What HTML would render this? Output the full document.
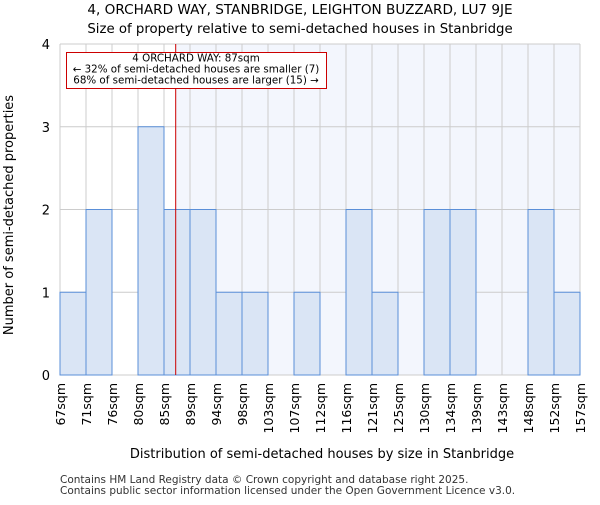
<!DOCTYPE html>
<html><head><meta charset="utf-8"><style>body{margin:0;background:#fff}svg{font-family:"DejaVu Sans","Liberation Sans",sans-serif}</style></head>
<body>
<svg id="c" width="600" height="500" xmlns="http://www.w3.org/2000/svg"></svg>
<script>
const edges=["67sqm","71sqm","76sqm","80sqm","85sqm","89sqm","94sqm","98sqm","103sqm","107sqm","112sqm","116sqm","121sqm","125sqm","130sqm","134sqm","139sqm","143sqm","148sqm","152sqm","157sqm"];
const counts=[1,2,0,3,2,2,1,1,0,1,0,2,1,0,2,2,0,0,2,1];
const yTicks=[0,1,2,3,4];
const markerPos=4.45; // in bin units
const svg=document.getElementById('c');
const NS='http://www.w3.org/2000/svg';
const L=60,R=580,T=44,B=375,bw=(R-L)/counts.length;
const x=i=>L+i*bw, y=v=>B-(B-T)*v/4;
function mk(t,a,p){const e=document.createElementNS(NS,t);for(const k in a)e.setAttribute(k,a[k]);(p||svg).appendChild(e);return e;}
const mx=x(markerPos);
let e=mk('rect',{x:mx,y:T,width:R-mx,height:B-T,fill:'#f3f6fd'});


edges.forEach((_,i)=>{mk('line',{x1:x(i),x2:x(i),y1:T,y2:B,stroke:'#cccccc'});});
yTicks.forEach(v=>{mk('line',{x1:L,x2:R,y1:y(v),y2:y(v),stroke:'#cccccc'});
let t=mk('text',{x:L-10,y:y(v)+5,'text-anchor':'end','font-size':13});t.textContent=v;

});
counts.forEach((c,i)=>{if(!c)return;let r=mk('rect',{x:x(i),y:y(c),width:bw,height:B-y(c),fill:'#dae5f5',stroke:'#5a8fd8','stroke-width':1});

});
edges.forEach((l,i)=>{let t=mk('text',{transform:`translate(${x(i)+5},${B+8}) rotate(-90)`,'text-anchor':'end','font-size':12.5});t.textContent=l;

});
e=mk('line',{x1:mx,x2:mx,y1:T,y2:B,stroke:'#cc0000','stroke-width':1});


const g=mk('g',{});


mk('rect',{x:66.5,y:52.5,width:260,height:36,fill:'#fff',stroke:'#cc0000'},g);
[["4 ORCHARD WAY: 87sqm",61.5],["← 32% of semi-detached houses are smaller (7)",72.5],["68% of semi-detached houses are larger (15) →",83.5]].forEach(([s,yy])=>{let t=mk('text',{x:196,y:yy,'text-anchor':'middle','font-size':10.3},g);t.textContent=s;});
function txt(s,a,n){let t=mk('text',a);t.textContent=s;}
txt("4, ORCHARD WAY, STANBRIDGE, LEIGHTON BUZZARD, LU7 9JE",{x:300,y:14,'text-anchor':'middle','font-size':13.6},'chart-title');
txt("Size of property relative to semi-detached houses in Stanbridge",{x:300,y:33,'text-anchor':'middle','font-size':13.3},'chart-subtitle');
txt("Distribution of semi-detached houses by size in Stanbridge",{x:322,y:458,'text-anchor':'middle','font-size':13},'x-axis-title');
txt("Number of semi-detached properties",{transform:'translate(13,215) rotate(-90)','text-anchor':'middle','font-size':13},'y-axis-title');
txt("Contains HM Land Registry data © Crown copyright and database right 2025.",{x:60,y:483,'font-size':10.5,fill:'#333'},'footer-line-1');
txt("Contains public sector information licensed under the Open Government Licence v3.0.",{x:60,y:494,'font-size':10.5,fill:'#333'},'footer-line-2');
</script>
</body></html>
